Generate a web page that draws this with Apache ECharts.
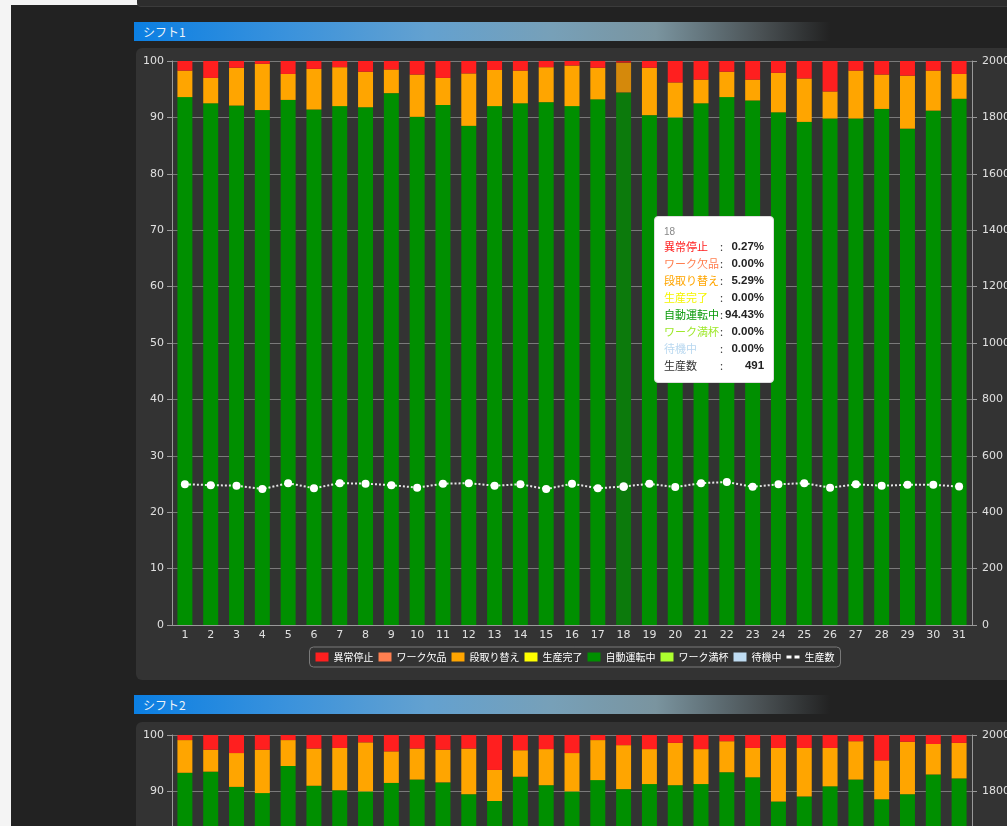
<!DOCTYPE html>
<html><head><meta charset="utf-8">
<script src="https://cdn.jsdelivr.net/npm/echarts@6/dist/echarts.min.js"></script>
<style>
html,body{margin:0;padding:0;width:1007px;height:826px;overflow:hidden;background:#f4f4f4;}
#frame{position:absolute;left:11px;top:5px;width:1100px;height:1500px;background:#222;}
#topstrip{position:absolute;left:137px;top:0;width:900px;height:6px;background:#2d2d2d;border-bottom:1px solid #3b3b3b;border-radius:0 0 4px 4px;}
.hdr{position:absolute;left:134px;width:696px;height:19px;line-height:19px;padding-left:9px;box-sizing:border-box;color:#eef3f8;font-size:12px;font-family:'Noto Sans CJK JP',sans-serif;
background:linear-gradient(to right,#0b7fe3 0%,#3a92dc 22%,#63a1d0 42%,#77a0b8 60%,#7a949f 75%,#4a5154 90%,#222 100%);}
.panel{position:absolute;left:136px;width:878px;height:632px;background:#333;border-radius:6px;}
.chart{position:absolute;left:0;top:0;width:878px;height:632px;}
</style></head>
<body>
<div id="frame"></div>
<div id="topstrip"></div>
<div class="hdr" style="top:22px">シフト1</div>
<div class="panel" style="top:48px"><div class="chart" id="c1"></div></div>
<div class="hdr" style="top:695px">シフト2</div>
<div class="panel" style="top:722px"><div class="chart" id="c2"></div></div>
<script>
const days = ['1','2','3','4','5','6','7','8','9','10','11','12','13','14','15','16','17','18','19','20','21','22','23','24','25','26','27','28','29','30','31'];
const seriesNames = ['異常停止','ワーク欠品','段取り替え','生産完了','自動運転中','ワーク満杯','待機中'];
const countName = '生産数';
const zeros = [0,0,0,0,0,0,0,0,0,0,0,0,0,0,0,0,0,0,0,0,0,0,0,0,0,0,0,0,0,0,0];

// シフト1
const s1Abnormal = [1.70,3.00,1.20,0.50,2.30,1.40,1.10,1.90,1.50,2.40,3.00,2.20,1.60,1.70,1.10,0.80,1.20,0.27,1.20,3.80,3.30,1.90,3.30,2.10,3.10,5.40,1.70,2.40,2.60,1.70,2.30];
const s1Setup    = [4.70,4.50,6.70,8.20,4.60,7.20,6.90,6.30,4.20,7.50,4.80,9.30,6.40,5.80,6.20,7.20,5.60,5.29,8.40,6.20,4.20,4.50,3.70,7.00,7.70,4.80,8.50,6.10,9.40,7.10,4.40];
const s1Auto     = [93.60,92.50,92.10,91.30,93.10,91.40,92.00,91.80,94.30,90.10,92.20,88.50,92.00,92.50,92.70,92.00,93.20,94.43,90.40,90.00,92.50,93.60,93.00,90.90,89.20,89.80,89.80,91.50,88.00,91.20,93.30];
const s1Count    = [499,496,494,482,503,485,503,501,496,487,501,503,494,499,482,501,485,491,501,489,503,507,490,499,503,487,499,494,497,497,491];

// シフト2
const s2Abnormal = [0.90,2.60,3.20,2.60,0.90,2.40,2.30,1.30,2.90,2.40,2.60,2.40,6.20,2.70,2.50,3.20,0.90,1.80,2.50,1.40,2.50,1.10,2.30,2.30,2.30,2.30,1.10,4.50,1.20,1.60,1.40];
const s2Setup    = [5.80,3.90,6.00,7.70,4.60,6.60,7.50,8.70,5.60,5.50,5.80,8.10,5.50,4.70,6.40,6.80,7.10,7.80,6.20,7.50,6.20,5.50,5.20,9.50,8.60,6.80,6.80,6.90,9.30,5.40,6.30];
const s2Auto     = [93.30,93.50,90.80,89.70,94.50,91.00,90.20,90.00,91.50,92.10,91.60,89.50,88.30,92.60,91.10,90.00,92.00,90.40,91.30,91.10,91.30,93.40,92.50,88.20,89.10,90.90,92.10,88.60,89.50,93.00,92.30];
const s2Count    = [488,495,481,479,502,490,486,484,492,495,493,483,478,497,490,486,494,488,491,490,491,499,495,477,481,489,494,480,484,498,495];

const colors = {'異常停止':'#ff1f1f','ワーク欠品':'#ff7f50','段取り替え':'#ffa500','生産完了':'#ffff00','自動運転中':'#008f00','ワーク満杯':'#adff2f','待機中':'#bfdcf2'};
const darkColors = {'異常停止':'#d41a1a','ワーク欠品':'#d46a43','段取り替え':'#d5890b','生産完了':'#d4d400','自動運転中':'#0c7a0c','ワーク満杯':'#90d427','待機中':'#9fb7c9'};
const tipNameColors = {'異常停止':'#ff2020','ワーク欠品':'#ff7f50','段取り替え':'#ffa500','生産完了':'#f5f500','自動運転中':'#0a9a0a','ワーク満杯':'#9ee82a','待機中':'#b9d8f0'};
const FONT = "'DejaVu Sans','Noto Sans CJK JP',sans-serif";

function build(el, abn, setup, auto, count, showTip) {
  const chart = echarts.init(el, null, {renderer:'canvas'});
  const valuesByName = {'異常停止':abn,'ワーク欠品':zeros,'段取り替え':setup,'生産完了':zeros,'自動運転中':auto,'ワーク満杯':zeros,'待機中':zeros};
  const stackOrder = ['待機中','ワーク満杯','自動運転中','生産完了','段取り替え','ワーク欠品','異常停止'];
  const series = stackOrder.map(n => ({
    name:n, type:'bar', stack:'total', barWidth:'58%', yAxisIndex:0,
    data: valuesByName[n],
    itemStyle:{color:colors[n]},
    emphasis:{itemStyle:{color:darkColors[n]}}
  }));
  series.push({
    name:countName, type:'line', yAxisIndex:1, data:count, z:10,
    symbol:'circle', symbolSize:8, showSymbol:true,
    lineStyle:{color:'#e6e6e6', width:2, type:'dotted'},
    itemStyle:{color:'#ffffff'},
    emphasis:{disabled:true}
  });
  const legendData = seriesNames.map(n => ({name:n, icon:'rect'}));
  legendData.push({name:countName, icon:'path://M0,0h5v3h-5z M8,0h5v3h-5z', itemStyle:{color:'#ffffff'}});
  const axisLab = {color:'#e0e0e0', fontSize:11, fontFamily:FONT};
  chart.setOption({
    animation:false,
    textStyle:{fontFamily:FONT},
    grid:{left:36, right:42, top:13, bottom:55},
    legend:{
      data:legendData, top:599, left:'center',
      itemWidth:13, itemHeight:9, itemGap:5,
      padding:[5,6], borderColor:'#7a7a7a', borderWidth:1, borderRadius:4,
      textStyle:{color:'#ffffff', fontSize:10, fontFamily:"'Noto Sans CJK JP',sans-serif"}
    },
    tooltip:{
      trigger:'axis', axisPointer:{type:'none'},
      alwaysShowContent:true, transitionDuration:0,
      backgroundColor:'#ffffff', borderColor:'#dddddd', borderWidth:1, borderRadius:4,
      padding:[8,9], extraCssText:'box-shadow:none;',
      position:function(){ return [518,168]; },
      formatter:function(params){
        const i = params[0].dataIndex;
        let h = '<div style="font-size:10px;line-height:13px;color:#888;font-family:Liberation Sans,sans-serif">'+days[i]+'</div>';
        h += '<table style="border-collapse:collapse;font-size:11px;line-height:17px;font-family:Noto Sans CJK JP,sans-serif">';
        const vs = 'padding:0;text-align:right;font-weight:bold;color:#222;font-family:Liberation Sans,sans-serif;font-size:11.5px';
        seriesNames.forEach(n => {
          h += '<tr><td style="padding:0;color:'+tipNameColors[n]+';white-space:nowrap">'+n+'</td>'+
               '<td style="padding:0 2px 0 1px;color:#333">:</td>'+
               '<td style="'+vs+'">'+valuesByName[n][i].toFixed(2)+'%</td></tr>';
        });
        h += '<tr><td style="padding:0;color:#333">'+countName+'</td><td style="padding:0 2px 0 1px;color:#333">:</td>'+
             '<td style="'+vs+'">'+count[i]+'</td></tr>';
        h += '</table>';
        return h;
      }
    },
    xAxis:{
      type:'category', data:days,
      axisLine:{lineStyle:{color:'#999'}},
      axisTick:{lineStyle:{color:'#999'}},
      axisLabel:Object.assign({margin:5}, axisLab)
    },
    yAxis:[
      {type:'value', min:0, max:100, interval:10,
       axisLine:{show:true, lineStyle:{color:'#999'}},
       axisTick:{show:true, lineStyle:{color:'#999'}},
       splitLine:{lineStyle:{color:'#7a7a7a'}},
       axisLabel:axisLab},
      {type:'value', min:0, max:2000, interval:200, position:'right',
       axisLine:{show:true, lineStyle:{color:'#999'}},
       axisTick:{show:true, lineStyle:{color:'#999'}},
       splitLine:{show:false},
       axisLabel:Object.assign({margin:10, formatter:function(v){return String(v);}}, axisLab)}
    ],
    series:series
  });
  if (showTip) {
    chart.dispatchAction({type:'showTip', seriesIndex:0, dataIndex:17});
    chart.dispatchAction({type:'highlight', seriesIndex:[0,1,2,3,4,5,6], dataIndex:17});
  }
  return chart;
}
build(document.getElementById('c1'), s1Abnormal, s1Setup, s1Auto, s1Count, true);
build(document.getElementById('c2'), s2Abnormal, s2Setup, s2Auto, s2Count, false);
</script>
</body></html>
